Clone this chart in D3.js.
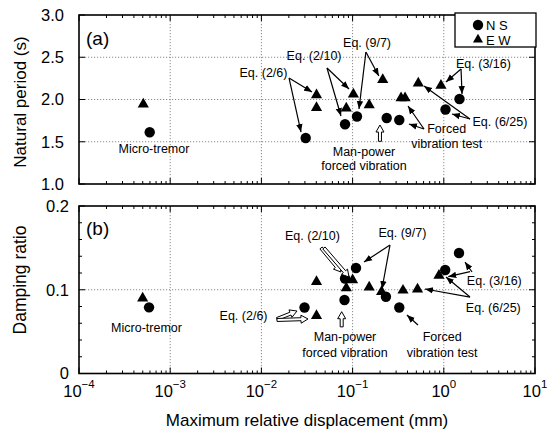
<!DOCTYPE html>
<html><head><meta charset="utf-8">
<script src="https://cdn.jsdelivr.net/npm/d3@7"></script>
<style>
body{margin:0;background:#fff}
svg{display:block}
text{font-family:"Liberation Sans",Arial,Helvetica,sans-serif;fill:#000}
</style>
</head><body>
<svg id="chart" width="547" height="434"></svg>
<script>
// ---------- data ----------
const xDecades = [1e-4, 1e-3, 1e-2, 1e-1, 1, 10];
const xExponents = ["\u22124", "\u22123", "\u22122", "\u22121", "0", "1"];
const periodTicks = [1.0, 1.5, 2.0, 2.5, 3.0];
const periodTickLabels = ["1.0", "1.5", "2.0", "2.5", "3.0"];
const dampingTicks = [0, 0.1, 0.2];
const dampingTickLabels = ["0", "0.1", "0.2"];
const dampingMinorTicks = [0.02, 0.04, 0.06, 0.08, 0.12, 0.14, 0.16, 0.18];

// (a) Natural period
const nsPeriodX = [5.96e-4, 0.0306, 0.0826, 0.1117, 0.2366, 0.325, 1.044, 1.486];
const nsPeriodY = [1.612, 1.544, 1.707, 1.799, 1.781, 1.757, 1.882, 2.006];
const ewPeriodX = [5.07e-4, 0.0402, 0.0402, 0.102, 0.0853, 0.152, 0.214, 0.340, 0.376, 0.525, 0.931];
const ewPeriodY = [1.943, 2.053, 1.903, 2.062, 1.896, 1.935, 2.234, 2.018, 2.018, 2.192, 2.166];

// (b) Damping ratio
const nsDampX = [5.86e-4, 0.0297, 0.0826, 0.109, 0.0815, 0.232, 0.325, 1.036, 1.468];
const nsDampY = [0.079, 0.0788, 0.1134, 0.126, 0.0878, 0.0917, 0.0788, 0.1236, 0.1439];
const ewDampX = [4.99e-4, 0.0402, 0.0402, 0.100, 0.0853, 0.152, 0.208, 0.357, 0.515, 0.885];
const ewDampY = [0.0898, 0.1096, 0.069, 0.1116, 0.102, 0.103, 0.0977, 0.0993, 0.1007, 0.117];

// annotations (data coordinates)
const periodNotes = [
  ["Micro-tremor", 6.64e-4, 1.367],
  ["Eq. (2/6)", 0.01054, 2.266],
  ["Eq. (2/10)", 0.0378, 2.467],
  ["Eq. (9/7)", 0.144, 2.621],
  ["Eq. (3/16)", 2.72, 2.367],
  ["Eq. (6/25)", 4.13, 1.686],
  ["Forced", 1.076, 1.604],
  ["vibration test", 1.076, 1.422],
  ["Man-power", 0.1334, 1.335],
  ["forced vibration", 0.1334, 1.163]
];
const periodArrows = [
  [0.0201, 2.254, 0.0359, 2.089], [0.0201, 2.254, 0.0272, 1.615],
  [0.0524, 2.373, 0.0746, 1.805], [0.0524, 2.373, 0.0914, 2.124],
  [0.140, 2.562, 0.194, 2.278], [0.140, 2.562, 0.1175, 1.888],
  [1.545, 2.361, 1.057, 2.207], [1.545, 2.361, 1.585, 2.065],
  [1.937, 1.769, 0.607, 2.160], [1.937, 1.769, 1.230, 1.828],
  [0.607, 1.651, 0.405, 1.923], [0.607, 1.651, 0.415, 1.710]
];
const periodHollow = [[0.1995, 1.505, 0.1995, 1.698]];

const dampNotes = [
  ["Micro-tremor", 5.5e-4, 0.0499],
  ["Eq. (2/6)", 0.00637, 0.0639],
  ["Eq. (2/10)", 0.0363, 0.1594],
  ["Eq. (9/7)", 0.352, 0.1633],
  ["Eq. (3/16)", 3.58, 0.1051],
  ["Eq. (6/25)", 3.49, 0.0738],
  ["Forced", 0.959, 0.0385],
  ["vibration test", 0.959, 0.0201],
  ["Man-power", 0.0826, 0.0385],
  ["forced vibration", 0.0826, 0.0201]
];
const dampArrows = [
  [0.257, 0.1534, 0.1334, 0.1331], [0.257, 0.1534, 0.210, 0.1009],
  [2.04, 0.1212, 1.707, 0.1331], [1.937, 0.1216, 1.12, 0.1156],
  [1.937, 0.0913, 0.622, 0.1009], [1.937, 0.0913, 1.057, 0.1152],
  [0.521, 0.0579, 0.394, 0.0699]
];
const dampHollow = [
  [0.01483, 0.0651, 0.02455, 0.0746], [0.01483, 0.0639, 0.03245, 0.0651],
  [0.0451, 0.1499, 0.0746, 0.1212], [0.0485, 0.1499, 0.0914, 0.1152],
  [0.0759, 0.0557, 0.0759, 0.0738]
];

// ---------- drawing ----------
const svg = d3.select("#chart");
const x = d3.scaleLog().domain([1e-4, 10]).range([79, 535]);
const yA = d3.scaleLinear().domain([1.0, 3.0]).range([184, 15]);
const yB = d3.scaleLinear().domain([0, 0.2]).range([373.5, 206]);

svg.append("defs").append("marker")
  .attr("id", "ah").attr("viewBox", "-8 -4 9 8").attr("refX", 0).attr("refY", 0)
  .attr("markerWidth", 9).attr("markerHeight", 8).attr("markerUnits", "userSpaceOnUse")
  .attr("orient", "auto")
  .append("path").attr("d", "M0,0L-8,-3.2L-8,3.2Z").attr("fill", "#000");

const minorX = [];
for (let e = -4; e < 1; e++) for (let m = 2; m <= 9; m++) minorX.push(m * Math.pow(10, e));

function panel(y, yTicks, yLabels, yMinor, labelEnd, nsX, nsY, ewX, ewY, notes, arrows, hollow, tag, tagY) {
  const [y0, y1] = y.range();
  const g = svg.append("g");
  // grid
  const grid = g.append("g").attr("stroke", "#8a8a8a").attr("stroke-width", 1).attr("stroke-dasharray", "1.2,1.8");
  grid.selectAll("line.v").data(xDecades.slice(1, -1)).enter().append("line")
    .attr("x1", d => x(d)).attr("x2", d => x(d)).attr("y1", y1).attr("y2", y0);
  grid.selectAll("line.h").data(yTicks.slice(1, -1)).enter().append("line")
    .attr("x1", 79).attr("x2", 535).attr("y1", d => y(d)).attr("y2", d => y(d));
  // ticks
  const tk = g.append("g").attr("stroke", "#000").attr("stroke-width", 1);
  xDecades.forEach(d => {
    tk.append("line").attr("x1", x(d)).attr("x2", x(d)).attr("y1", y0).attr("y2", y0 - 6);
    tk.append("line").attr("x1", x(d)).attr("x2", x(d)).attr("y1", y1).attr("y2", y1 + 6);
  });
  minorX.forEach(d => {
    tk.append("line").attr("x1", x(d)).attr("x2", x(d)).attr("y1", y0).attr("y2", y0 - 3);
    tk.append("line").attr("x1", x(d)).attr("x2", x(d)).attr("y1", y1).attr("y2", y1 + 3);
  });
  yTicks.forEach(d => {
    tk.append("line").attr("x1", 79).attr("x2", 85).attr("y1", y(d)).attr("y2", y(d));
    tk.append("line").attr("x1", 535).attr("x2", 529).attr("y1", y(d)).attr("y2", y(d));
  });
  yMinor.forEach(d => {
    tk.append("line").attr("x1", 79).attr("x2", 82).attr("y1", y(d)).attr("y2", y(d));
    tk.append("line").attr("x1", 535).attr("x2", 532).attr("y1", y(d)).attr("y2", y(d));
  });
  // frame
  g.append("rect").attr("x", 79).attr("y", y1).attr("width", 456).attr("height", y0 - y1)
    .attr("fill", "none").attr("stroke", "#000").attr("stroke-width", 1.6);
  // y tick labels
  g.selectAll("text.yt").data(yTicks).enter().append("text")
    .attr("x", labelEnd).attr("y", d => y(d)).attr("dy", "0.36em")
    .attr("text-anchor", "end").attr("font-size", 16.5).text((d, i) => yLabels[i]);
  // points
  g.selectAll("path.ew").data(ewX).enter().append("path")
    .attr("transform", (d, i) => `translate(${x(d)},${y(ewY[i])})`)
    .attr("d", d3.symbol(d3.symbolTriangle, 54)).attr("fill", "#000");
  g.selectAll("circle.ns").data(nsX).enter().append("circle")
    .attr("cx", d => x(d)).attr("cy", (d, i) => y(nsY[i])).attr("r", 5.2).attr("fill", "#000");
  // arrows
  g.selectAll("line.arr").data(arrows).enter().append("line")
    .attr("x1", d => x(d[0])).attr("y1", d => y(d[1]))
    .attr("x2", d => x(d[2])).attr("y2", d => y(d[3]))
    .attr("stroke", "#000").attr("stroke-width", 1.2).attr("marker-end", "url(#ah)");
  hollow.forEach(d => {
    const ax = x(d[0]), ay = y(d[1]), bx = x(d[2]), by = y(d[3]);
    const L = Math.hypot(bx - ax, by - ay), ux = (bx - ax) / L, uy = (by - ay) / L;
    const nx = -uy, ny = ux, w = 1.5, hw = 4, hl = 7;
    const cx = bx - ux * hl, cy = by - uy * hl;
    const pts = [[ax + nx * w, ay + ny * w], [cx + nx * w, cy + ny * w], [cx + nx * hw, cy + ny * hw], [bx, by],
      [cx - nx * hw, cy - ny * hw], [cx - nx * w, cy - ny * w], [ax - nx * w, ay - ny * w]];
    g.append("path").attr("d", "M" + pts.map(p => p.join(",")).join("L") + "Z")
      .attr("fill", "#fff").attr("stroke", "#000").attr("stroke-width", 1);
  });
  // notes
  g.selectAll("text.note").data(notes).enter().append("text")
    .attr("x", d => x(d[1])).attr("y", d => y(d[2])).attr("text-anchor", "middle")
    .attr("font-size", 12.5).text(d => d[0]);
  // panel tag
  g.append("text").attr("x", 86).attr("y", tagY).attr("font-size", 19).text(tag);
}

panel(yA, periodTicks, periodTickLabels, [], 64, nsPeriodX, nsPeriodY, ewPeriodX, ewPeriodY,
  periodNotes, periodArrows, periodHollow, "(a)", 45);
panel(yB, dampingTicks, dampingTickLabels, dampingMinorTicks, 69, nsDampX, nsDampY, ewDampX, ewDampY,
  dampNotes, dampArrows, dampHollow, "(b)", 235);

// x tick labels (bottom panel)
const xl = svg.selectAll("text.xt").data(xDecades).enter().append("text")
  .attr("x", d => x(d)).attr("y", 397).attr("text-anchor", "middle").attr("font-size", 16.5);
xl.append("tspan").text("10");
xl.append("tspan").attr("dy", -9).attr("font-size", 11.5).text((d, i) => xExponents[i]);

// axis titles
svg.append("text").attr("x", 307).attr("y", 426).attr("text-anchor", "middle")
  .attr("font-size", 17).text("Maximum relative displacement (mm)");
svg.append("text").attr("transform", "translate(26,102) rotate(-90)").attr("text-anchor", "middle")
  .attr("font-size", 17).text("Natural period (s)");
svg.append("text").attr("transform", "translate(26,280) rotate(-90)").attr("text-anchor", "middle")
  .attr("font-size", 17.5).text("Damping ratio");

// legend
const lg = svg.append("g");
lg.append("rect").attr("x", 455).attr("y", 13).attr("width", 81).attr("height", 34)
  .attr("fill", "#fff").attr("stroke", "#000").attr("stroke-width", 1.3);
lg.append("circle").attr("cx", 478).attr("cy", 25).attr("r", 5.2).attr("fill", "#000");
lg.append("path").attr("transform", "translate(478,39.5)").attr("d", d3.symbol(d3.symbolTriangle, 44)).attr("fill", "#000");
lg.append("text").attr("x", 486).attr("y", 29.5).attr("font-size", 13).text("N S");
lg.append("text").attr("x", 486).attr("y", 44.5).attr("font-size", 13).text("E W");
</script>
</body></html>
